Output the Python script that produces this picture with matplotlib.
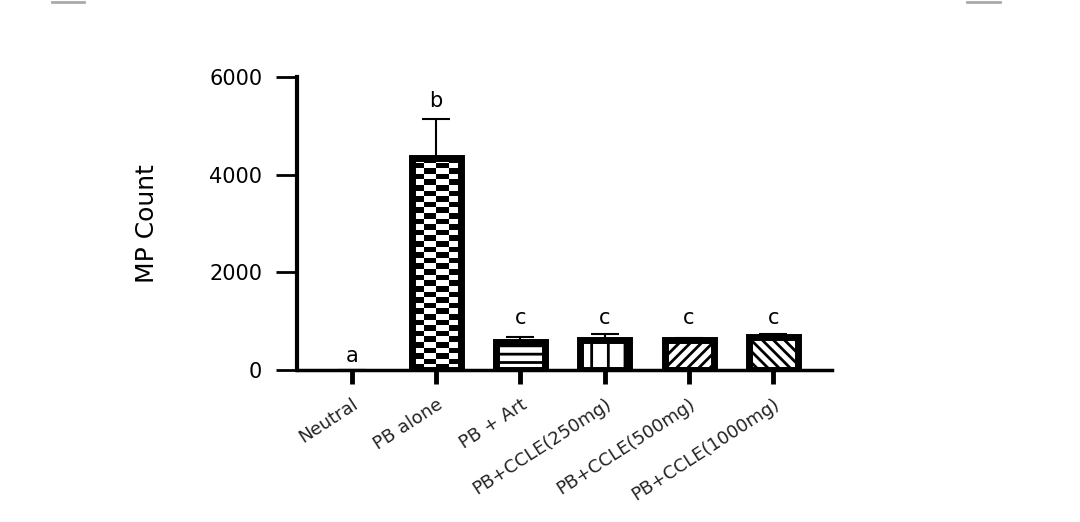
import numpy as np
import matplotlib
matplotlib.use("Agg")
import matplotlib.pyplot as plt
from matplotlib.lines import Line2D

categories = ["Neutral", "PB alone", "PB + Art", "PB+CCLE(250mg)",
              "PB+CCLE(500mg)", "PB+CCLE(1000mg)"]
means = [0, 4340, 570, 610, 620, 670]
errors = [0, 800, 110, 120, 30, 60]
letters = ["a", "b", "c", "c", "c", "c"]
letter_y = [290, 5510, 1060, 1060, 1060, 1060]
hatches = [None, "checker", "--", "|", "///", "\\\\\\"]
yticks = [0, 2000, 4000, 6000]

plt.rcParams["hatch.linewidth"] = 2.0
plt.rcParams["font.family"] = ["DejaVu Sans"]

fig = plt.figure(figsize=(10.8, 5.22), dpi=100)
ax = fig.add_axes([0.275, 0.291, 0.495, 0.5615])

x = np.arange(len(categories))
bars = ax.bar(x, means, width=0.58, color="white", edgecolor="black",
              linewidth=5, zorder=2)
for b, h, m in zip(bars, hatches, means):
    if m == 0:
        b.set_linewidth(0)
    if h and h != "checker":
        b.set_hatch(h)

# checkerboard fill for the PB alone bar
for b, h in zip(bars, hatches):
    if h == "checker":
        x0, w = b.get_x(), b.get_width()
        top = b.get_height()
        ncols, nrows = 4, 38
        pattern = (np.indices((nrows, ncols)).sum(axis=0) % 2).astype(float)
        im = ax.imshow(pattern, cmap="gray_r", extent=[x0, x0 + w, 0, top],
                       aspect="auto", interpolation="nearest", zorder=2.5)
        im.set_clip_path(b)
        b.set_zorder(3)
        b.set_facecolor("none")

ax.errorbar(x, means, yerr=[np.zeros(len(errors)), errors], fmt="none",
            ecolor="black", elinewidth=1.5, capsize=10, capthick=1.5, zorder=1)

for xi, t, ly in zip(x, letters, letter_y):
    ax.text(xi, ly, t, ha="center", va="center", fontsize=15, color="black")

ax.set_xlim(-0.65, 5.69)
ax.set_ylim(0, 6000)
ax.set_yticks(yticks)
ax.set_yticklabels([str(v) for v in yticks], fontsize=15)
ax.set_xticks(x)
ax.set_xticklabels(categories, rotation=33, ha="right", rotation_mode="anchor",
                   fontsize=13, color="#222222")
ax.tick_params(axis="x", length=10, width=3.5, direction="out", pad=8)
ax.tick_params(axis="y", length=15, width=2, direction="out", pad=10)
for s in ["top", "right"]:
    ax.spines[s].set_visible(False)
ax.spines["left"].set_linewidth(3)
ax.spines["bottom"].set_linewidth(2.5)
ax.set_ylabel("MP Count", fontsize=18, labelpad=36)

fig.add_artist(Line2D([52 / 1080, 84 / 1080], [0.997, 0.997], color="#aaaaaa", lw=2))
fig.add_artist(Line2D([967 / 1080, 1000 / 1080], [0.997, 0.997], color="#aaaaaa", lw=2))

fig.savefig("out.png", dpi=100)
